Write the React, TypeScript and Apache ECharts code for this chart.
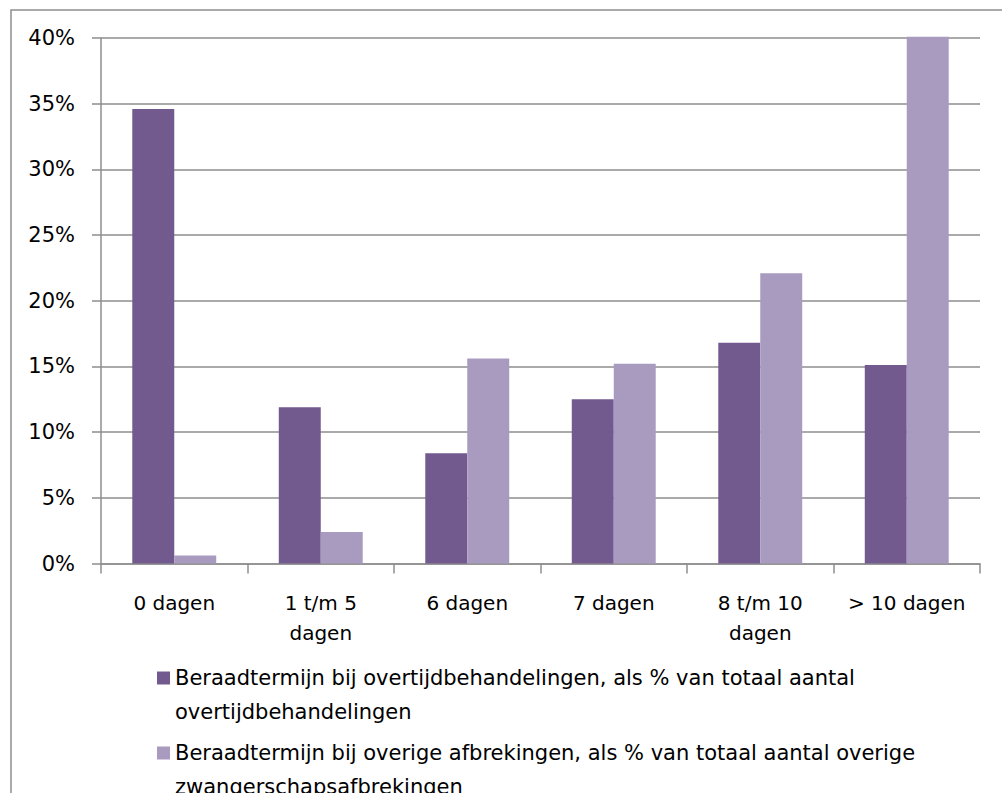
import React, { useEffect, useRef } from "react";
import * as echarts from "echarts";

const categories = ["0 dagen", "1 t/m 5\ndagen", "6 dagen", "7 dagen", "8 t/m 10\ndagen", "> 10 dagen"];
const overtijd = [34.6, 11.9, 8.4, 12.5, 16.8, 15.1];
const overige = [0.6, 2.4, 15.6, 15.2, 22.1, 40.1];
const seriesNames = [
  "Beraadtermijn bij overtijdbehandelingen, als % van totaal aantal overtijdbehandelingen",
  "Beraadtermijn bij overige afbrekingen, als % van totaal aantal overige zwangerschapsafbrekingen",
];
const legendLabels = [
  "Beraadtermijn bij overtijdbehandelingen, als % van totaal aantal\novertijdbehandelingen",
  "Beraadtermijn bij overige afbrekingen, als % van totaal aantal overige\nzwangerschapsafbrekingen",
];
const yTicks = { min: 0, max: 40, interval: 5 };

const FONT = "DejaVu Sans";
const GRAY = "#8E8E8E";
const DARK = "#725A8F";
const LIGHT = "#A99BC0";

export default function App() {
  const ref = useRef<HTMLDivElement>(null);
  useEffect(() => {
    if (!ref.current) return;
    const chart = echarts.init(ref.current, null, { renderer: "svg" });
    const legendText = {
      fontFamily: FONT,
      fontSize: 21,
      color: "#000",
      lineHeight: 34,
    };
    chart.setOption({
      animation: false,
      backgroundColor: "#fff",
      textStyle: { fontFamily: FONT },
      graphic: [
        {
          type: "rect",
          shape: { x: 11, y: 10, width: 1000, height: 800 },
          style: { fill: "none", stroke: GRAY, lineWidth: 1.5 },
          silent: true,
          z: -1,
        },
      ],
      grid: { left: 101, top: 38, right: 22, bottom: 229.5, containLabel: false },
      xAxis: {
        type: "category",
        data: categories,
        axisLine: { show: true, lineStyle: { color: GRAY, width: 1.5 } },
        axisTick: { show: true, length: 10, alignWithLabel: false, lineStyle: { color: GRAY, width: 1.5 } },
        axisLabel: {
          interval: 0,
          margin: 24,
          fontFamily: FONT,
          fontSize: 20,
          lineHeight: 30,
          color: "#000",
        },
      },
      yAxis: {
        type: "value",
        min: yTicks.min,
        max: yTicks.max,
        interval: yTicks.interval,
        axisLine: { show: true, lineStyle: { color: GRAY, width: 1.5 } },
        axisTick: { show: true, length: 9, lineStyle: { color: GRAY, width: 1.5 } },
        splitLine: { show: true, lineStyle: { color: GRAY, width: 1.5 } },
        axisLabel: {
          formatter: "{value}%",
          margin: 26,
          fontFamily: FONT,
          fontSize: 21,
          color: "#000",
        },
      },
      legend: [
        {
          data: [seriesNames[0]],
          left: 157,
          top: 627,
          padding: 0,
          itemWidth: 13,
          itemHeight: 13,
          icon: "rect",
          formatter: () => "\n" + legendLabels[0],
          textStyle: legendText,
          selectedMode: false,
        },
        {
          data: [seriesNames[1]],
          left: 157,
          top: 702,
          padding: 0,
          itemWidth: 13,
          itemHeight: 13,
          icon: "rect",
          formatter: () => "\n" + legendLabels[1],
          textStyle: legendText,
          selectedMode: false,
        },
      ],
      series: [
        {
          name: seriesNames[0],
          type: "bar",
          data: overtijd,
          itemStyle: { color: DARK },
          barGap: "0%",
          barCategoryGap: "42.7%",
          clip: false,
        },
        {
          name: seriesNames[1],
          type: "bar",
          data: overige,
          itemStyle: { color: LIGHT },
          barGap: "0%",
          barCategoryGap: "42.7%",
          clip: false,
        },
      ],
    });
    return () => chart.dispose();
  }, []);
  return (
    <div
      ref={ref}
      style={{ position: "fixed", left: 0, top: 0, width: 1002, height: 793, background: "#fff" }}
    />
  );
}
